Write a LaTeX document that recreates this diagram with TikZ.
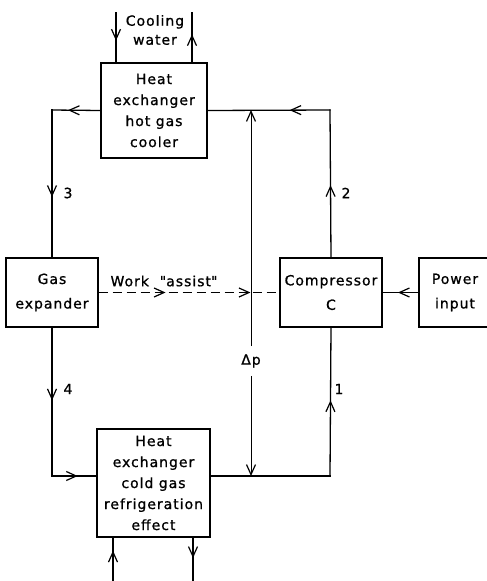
\documentclass[tikz,border=0pt]{standalone}
\usepackage{fontspec}
\setmainfont{DejaVu Sans}[LetterSpace=7,FakeBold=1]
\usetikzlibrary{arrows.meta,decorations.markings,calc}
\tikzset{
  lbl/.style={font=\fontsize{14}{21}\selectfont, align=center, inner sep=0pt},
  box/.style={lbl, draw, line width=1.3pt},
  pipe/.style={line width=1.3pt, line cap=rect},
  thinl/.style={line width=0.8pt},
  barb/.tip={Straight Barb[length=10pt,width=9pt,line width=1.2pt]},
  marr/.style={postaction={decorate,decoration={markings,mark=at position #1 with {\arrow{barb}}}}},
  dashl/.style={line width=1.3pt, dash pattern=on 9pt off 5pt}
}
\begin{document}
\begin{tikzpicture}[x=1pt,y=-1pt]
\useasboundingbox (0,0) rectangle (487,581);
% boxes
\node[box, minimum width=106pt, minimum height=95pt] (hot) at (154,110.5) {Heat\\exchanger\\hot gas\\cooler};
\node[box, minimum width=92pt, minimum height=69pt, font=\fontsize{14}{24.5}\selectfont] (exp) at (52,292.5) {Gas\\expander};
\node[box, minimum width=102pt, minimum height=69pt, font=\fontsize{14}{24.5}\selectfont] (comp) at (331,292.5) {Compressor\\C};
\node[box, minimum width=72pt, minimum height=69pt, font=\fontsize{14}{24.5}\selectfont, text width=72pt] (pow) at (455,292.5) {Power\\input};
\node[box, minimum width=113pt, minimum height=108pt] (cold) at (153.5,483) {Heat\\exchanger\\cold gas\\refrigeration\\effect};
% corners
\coordinate (cTL) at (52,110);
\coordinate (cTR) at (330,110);
\coordinate (cBL) at (52,476);
\coordinate (cBR) at (330,476);
\coordinate (dpT) at (251,110);
\coordinate (dpB) at (251,476);
% main loop
\draw[pipe, marr=0.67] (hot.west) -- (cTL);
\draw[pipe, marr=0.59] (cTL) -- (exp.north);
\draw[pipe, marr=0.49] (exp.south) -- (cBL);
\draw[pipe, marr=0.58] (cBL) -- (cBL -| cold.west);
\draw[pipe] (cBR -| cold.east) -- (cBR);
\draw[pipe, marr=0.51] (cBR) -- (comp.south);
\draw[pipe, marr=0.49] (comp.north) -- (cTR);
\draw[pipe, marr=0.33] (cTR) -- (hot.east);
% labels
\node[lbl] (n3) at (68,193) {3};
\node[lbl] (n2) at (346,193) {2};
\node[lbl] (n4) at (68,389) {4};
\node[lbl] (n1) at (339,389) {1};
% cooling water
\coordinate (cwi) at (116,13);
\coordinate (cwo) at (192,13);
\draw[pipe, marr=0.56] (cwi) -- (cwi |- hot.north);
\draw[pipe, marr=0.57] (cwo |- hot.north) -- (cwo);
\node[lbl, font=\fontsize{14}{19}\selectfont] (cw) at (155,30) {Cooling\\water};
% bottom pipes
\coordinate (rwi) at (113,581);
\coordinate (rwo) at (193,581);
\draw[pipe, marr=0.7] (rwi) -- (rwi |- cold.south);
\draw[pipe, marr=0.47] (rwo |- cold.south) -- (rwo);
% work assist
\draw[dashl, marr=0.37, marr=0.84] (exp.east) -- (comp.west);
\node[lbl] (work) at (164,281) {Work \ \textquotedbl assist\textquotedbl};
% power input
\draw[pipe, marr=0.57] (pow.west) -- (comp.east);
% delta p
\node[lbl, inner sep=8pt] (dp) at (251,361) {Δp};
\draw[thinl, -barb] (dp.north) -- (dpT);
\draw[thinl, -barb] (dp.south) -- (dpB);
\end{tikzpicture}
\end{document}
